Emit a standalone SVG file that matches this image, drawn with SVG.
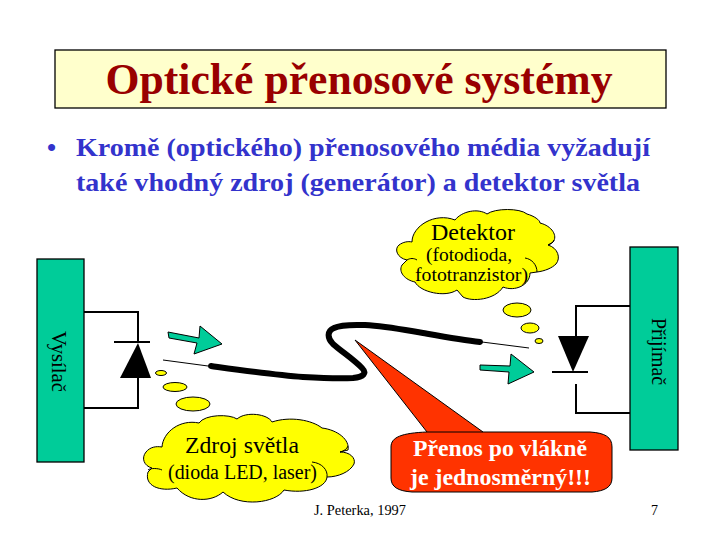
<svg xmlns="http://www.w3.org/2000/svg" width="720" height="540" viewBox="0 0 720 540">
<style>
text{font-family:"Liberation Serif","Times New Roman",serif}
.t{font-weight:bold}
.box{fill:#00cc99;stroke:#000;stroke-width:1.3}
.wire{fill:none;stroke:#000;stroke-width:2}
.cloud{fill:#ff0;stroke:#000;stroke-width:1}
.hook{fill:none;stroke:#000;stroke-width:1}
.tk{fill:#000;text-anchor:middle}
.gr{fill:#00cc99;stroke:#000;stroke-width:1}
.w{fill:#fff;text-anchor:middle;font-weight:bold}
</style>
<rect width="720" height="540" fill="#fff"/>
<g id="title"><rect x="55" y="50" width="611" height="58" fill="#ffffcc" stroke="#000" stroke-width="1.3"/>
<text x="359" y="94" class="t" font-size="45" fill="#990000" text-anchor="middle" textLength="507" lengthAdjust="spacingAndGlyphs">Optické přenosové systémy</text></g>
<g id="bullet" class="t" fill="#3333cc" font-size="26">
<text x="47" y="156">•</text>
<text x="76" y="156" textLength="574" lengthAdjust="spacingAndGlyphs">Kromě (optického) přenosového média vyžadují</text>
<text x="76" y="191" textLength="564" lengthAdjust="spacingAndGlyphs">také vhodný zdroj (generátor) a detektor světla</text></g>
<g id="connectors">
<path class="wire" d="M84 312H138V342M84 408H138V378M630 306H576V337M630 413H576V384"/>
<path class="wire" d="M114 342H150M552 372H588"/>
<path d="M163 360L208 366M482 342L529 348" stroke="#000" stroke-width="1" fill="none"/>
<path d="M211 366C240 370 275 375 303 377C320 378 338 379 353 378C364 377 367 373 362 368C352 358 342 352 333 344C327 338 327 331 334 328C342 324 355 325 365 325C385 326 405 330 423 333C440 336 462 340 480 342" fill="none" stroke="#000" stroke-width="6" stroke-linecap="round" stroke-linejoin="round"/>
</g>
<g id="vysilac"><rect class="box" x="37" y="259" width="47" height="203"/>
<text transform="translate(52,361.500) rotate(90)" class="tk" font-size="20.500" textLength="61" lengthAdjust="spacingAndGlyphs">Vysílač</text></g>
<g id="prijimac"><rect class="box" x="630" y="247" width="48" height="203"/>
<text transform="translate(652,351.500) rotate(90)" class="tk" font-size="20.500" textLength="67" lengthAdjust="spacingAndGlyphs">Přijímač</text></g>
<g id="dioda-led"><polygon points="138,343 151,378 120,378" fill="#000"/></g>
<g id="fotodioda"><polygon points="558,336 589,336 573,372" fill="#000"/></g>
<g id="sipka-vysilac"><polygon class="gr" points="168,332 199,338 200,326 222,344 194,354 197,343 169,338"/></g>
<g id="sipka-prijimac"><polygon class="gr" points="480,365 510,366 511,354 534,372 508,384 509,372 480,370"/></g>
<g id="bubliny-zdroj" class="cloud"><ellipse cx="161" cy="373" rx="5.500" ry="2.500"/><ellipse cx="175" cy="387" rx="12" ry="4.500"/><ellipse cx="193" cy="404" rx="17" ry="7"/></g>
<g id="bubliny-detektor" class="cloud"><ellipse cx="517" cy="310" rx="14" ry="7"/><ellipse cx="530" cy="328" rx="9" ry="5"/><ellipse cx="539" cy="341" rx="4" ry="2.500"/></g>
<g id="zdroj"><path class="cloud" d="M162 447C163 432 180 419 199 423C205 414 230 414 237 419C246 411 268 414 272 422C290 416 312 420 322 428C338 430 350 440 348 450L340 452C350 452 356 458 354 464C350 472 338 477 327 477C326 488 305 494 284 490C276 503 240 508 223 492C212 502 190 503 177 488C160 492 144 486 148 472L152 468C144 466 141 458 146 452C150 447 156 446 162 447Z"/>
<path class="hook" d="M312 462C322 463 328 470 327 477M340 452C344 451 347 449 348 446M148 470C150 468 158 468 162 470"/>
<text x="242" y="453" class="tk" font-size="24" textLength="114" lengthAdjust="spacingAndGlyphs">Zdroj světla</text>
<text x="242.500" y="479" class="tk" font-size="20" textLength="149" lengthAdjust="spacingAndGlyphs">(dioda LED, laser)</text></g>
<g id="detektor"><path class="cloud" d="M412 242C412 226 435 212 455 220C462 211 478 208 487 214C495 208 520 208 527 214C534 216 540 220 540 223C552 226 558 236 553 242L548 245C558 248 561 258 556 264C552 268 545 271 537 272L530 273C530 285 515 292 503 287C495 300 472 302 463 297L457 290C445 298 420 292 415 282C405 280 398 272 402 265L407 260C397 258 394 249 399 245C403 242 408 241 412 242Z"/>
<path class="hook" d="M525 258C532 259 537 265 537 272M548 245C551 244 553 243 554 240M407 260C410 258 414 258 417 260"/>
<text x="473" y="240" class="tk" font-size="24" textLength="84" lengthAdjust="spacingAndGlyphs">Detektor</text>
<text x="469" y="260.500" class="tk" font-size="18.500" textLength="86" lengthAdjust="spacingAndGlyphs">(fotodioda,</text>
<text x="471.500" y="281" class="tk" font-size="18.500" textLength="113" lengthAdjust="spacingAndGlyphs">fototranzistor)</text></g>
<g id="prenos"><path d="M355 340L427 432H483L355 340ZM427 432C402 433 391 437 391 447V478C391 487 398 491 412 492H592C605 491 612 487 612 478V447C612 437 605 433 590 432H483" fill="#ff3300" stroke="#000" stroke-width="1"/>
<path d="M428 433H482V436H428Z" fill="#ff3300"/>
<text x="500" y="456" class="w" font-size="24" textLength="174" lengthAdjust="spacingAndGlyphs">Přenos po vlákně</text>
<text x="500.500" y="485" class="w" font-size="24" textLength="181" lengthAdjust="spacingAndGlyphs">je jednosměrný!!!</text></g>
<g id="paticka" font-size="14" fill="#000"><text x="314" y="515" textLength="92" lengthAdjust="spacingAndGlyphs">J. Peterka, 1997</text><text x="651" y="515">7</text></g>
</svg>
